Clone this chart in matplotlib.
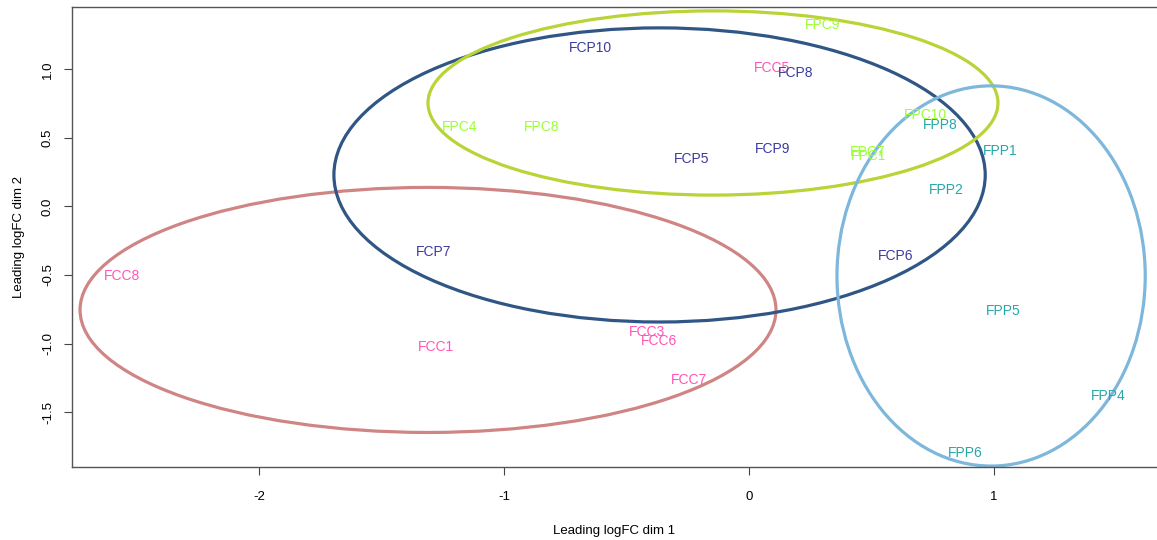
import matplotlib
matplotlib.use('Agg')
import matplotlib.pyplot as plt
from matplotlib.patches import Ellipse

plt.rcParams['font.family'] = ['Liberation Sans', 'DejaVu Sans']

# MDS coordinates of each sample (dim 1, dim 2)
samples = ['FCC1', 'FCC3', 'FCC5', 'FCC6', 'FCC7', 'FCC8',
           'FCP5', 'FCP6', 'FCP7', 'FCP8', 'FCP9', 'FCP10',
           'FPC1', 'FPC4', 'FPC7', 'FPC8', 'FPC9', 'FPC10',
           'FPP1', 'FPP2', 'FPP4', 'FPP5', 'FPP6', 'FPP8']
dim1 = [-1.277, -0.416, 0.094, -0.367, -0.245, -2.559,
        -0.233, 0.600, -1.286, 0.192, 0.098, -0.649,
        0.486, -1.180, 0.486, -0.845, 0.302, 0.718,
        1.024, 0.804, 1.465, 1.037, 0.882, 0.780]
dim2 = [-1.026, -0.916, 1.011, -0.982, -1.266, -0.507,
        0.347, -0.361, -0.332, 0.974, 0.420, 1.157,
        0.368, 0.580, 0.398, 0.580, 1.325, 0.668,
        0.405, 0.120, -1.383, -0.763, -1.799, 0.595]

group_colors = {'FCC': '#ff55b8', 'FCP': '#3b3b9e', 'FPC': '#99ff33', 'FPP': '#26a8a8'}

# group ellipses: centre, full width, full height, colour
ell_groups = ['FCC', 'FCP', 'FPC', 'FPP']
ell_cx = [-1.310, -0.365, -0.147, 0.988]
ell_cy = [-0.755, 0.230, 0.755, -0.507]
ell_w = [2.840, 2.658, 2.326, 1.258]
ell_h = [1.788, 2.146, 1.344, 2.774]
ell_colors = ['#d08585', '#2f5685', '#b8d436', '#7db7dc']

fig = plt.figure(figsize=(11.57, 5.40), dpi=100)
ax = fig.add_axes([0.0622, 0.1352, 0.9378, 0.852])

for name, x, y in zip(samples, dim1, dim2):
    ax.text(x, y, name, color=group_colors[name[:3]], fontsize=10,
            ha='center', va='center')

for cx, cy, w, h, c in zip(ell_cx, ell_cy, ell_w, ell_h, ell_colors):
    ax.add_patch(Ellipse((cx, cy), w, h, fill=False, edgecolor=c, linewidth=2.3))

ax.set_xlim(-2.763, 1.665)
ax.set_ylim(-1.901, 1.456)
ax.set_xticks([-2, -1, 0, 1])
ax.set_xticklabels(['-2', '-1', '0', '1'])
ax.set_yticks([-1.5, -1.0, -0.5, 0.0, 0.5, 1.0])
ax.set_yticklabels(['-1.5', '-1.0', '-0.5', '0.0', '0.5', '1.0'], rotation=90, va='center')
ax.tick_params(axis='x', length=6, pad=11, labelsize=9.5, color='#444444')
ax.tick_params(axis='y', length=6, pad=7, labelsize=9.5, color='#444444')
for side in ['left', 'bottom', 'top']:
    ax.spines[side].set_color('#555555')
    ax.spines[side].set_linewidth(1.0)
ax.spines['right'].set_visible(False)

ax.set_xlabel('Leading logFC dim 1', fontsize=9.5, labelpad=16)
ax.set_ylabel('Leading logFC dim 2', fontsize=9.5, labelpad=12)

fig.savefig('out.png', dpi=100)
